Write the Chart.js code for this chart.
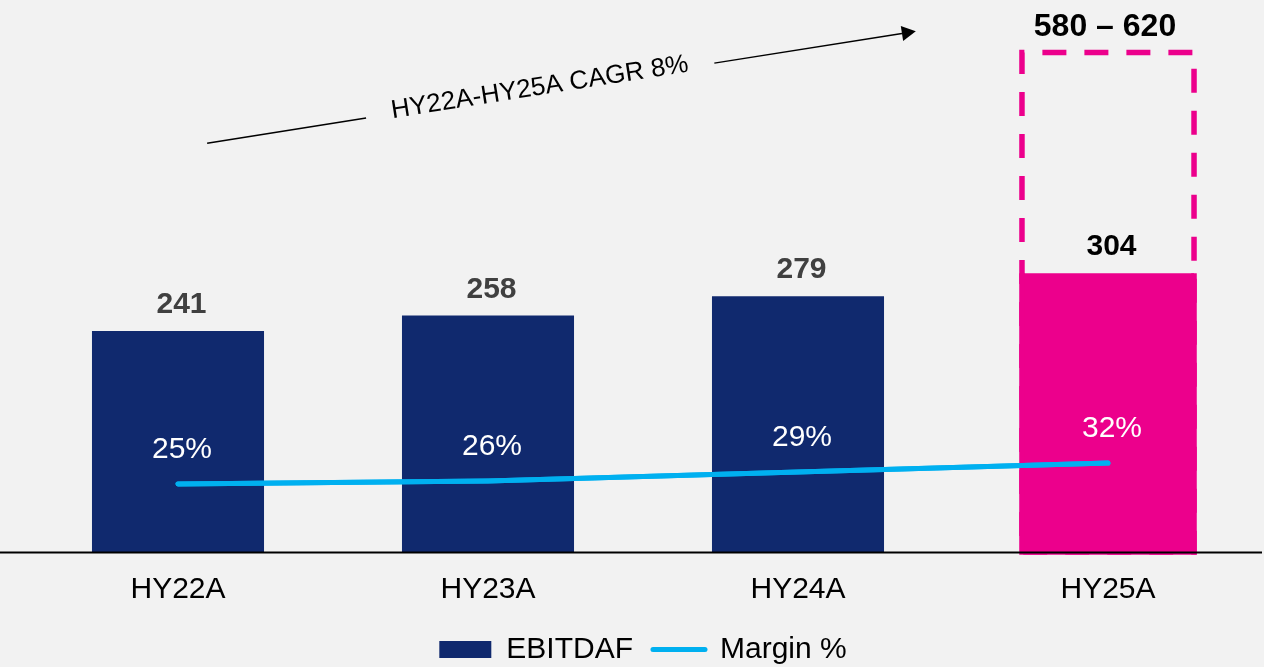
<!DOCTYPE html>
<html>
<head>
<meta charset="utf-8">
<script src="https://cdn.jsdelivr.net/npm/chart.js@4"></script>
<style>
  html, body { margin: 0; padding: 0; background: #f2f2f2; }
  canvas { display: block; }
</style>
</head>
<body>
<canvas id="chart" width="1264" height="667"></canvas>
<script>
const periods = ['HY22A', 'HY23A', 'HY24A', 'HY25A']
const ebitdaf = [241, 258, 279, 304]
const marginPct = [25, 26, 29, 32]

// guidance frame over the last bar, height as drawn in the picture
const guidanceTop = [null, null, null, 545]
const guidanceLabel = '580 – 620'

// growth arrow, ends given as [category index, EBITDAF value]
const cagrLabel = 'HY22A-HY25A CAGR 8%'
const cagrFrom = [0.094, 446]
const cagrTo = [2.38, 568]

const NAVY = '#10296e'
const PINK = '#ec008c'
const BLUE = '#00b0f0'
const FONT = "'Liberation Sans', Arial, sans-serif"

Chart.defaults.font.family = FONT

const overlay = {
  id: 'overlay',
  afterDatasetsDraw(chart) {
    const ctx = chart.ctx
    const x = chart.scales.x
    const y = chart.scales.y
    const lineMeta = chart.getDatasetMeta(0)
    const barMeta = chart.getDatasetMeta(1)
    const base = y.getPixelForValue(0)
    ctx.save()

    // dashed guidance frame + range label
    guidanceTop.forEach((v, i) => {
      if (v == null) return
      const bar = barMeta.data[i]
      const left = bar.x - bar.width / 2
      const right = bar.x + bar.width / 2
      const top = y.getPixelForValue(v)
      ctx.strokeStyle = PINK
      ctx.lineWidth = 5.5
      // solid edge where the frame runs along the filled bar
      ctx.beginPath()
      ctx.moveTo(left, bar.y)
      ctx.lineTo(left, base)
      ctx.lineTo(right, base)
      ctx.lineTo(right, bar.y)
      ctx.stroke()
      ctx.setLineDash([24, 18])
      ctx.lineDashOffset = 26
      ctx.beginPath()
      ctx.moveTo(left, base)
      ctx.lineTo(left, top)
      ctx.lineTo(right, top)
      ctx.lineTo(right, base)
      ctx.closePath()
      ctx.stroke()
      ctx.setLineDash([])
      ctx.fillStyle = '#000'
      ctx.font = 'bold 32px ' + FONT
      ctx.textAlign = 'center'
      ctx.textBaseline = 'alphabetic'
      ctx.fillText(guidanceLabel, bar.x - 3, top - 16.5)
    })

    // redraw the line over the frame edge
    lineMeta.dataset.draw(ctx, chart.chartArea)

    // baseline across the whole width
    ctx.strokeStyle = '#000'
    ctx.lineWidth = 2
    ctx.beginPath()
    ctx.moveTo(0, base + 0.5)
    ctx.lineTo(chart.width - 2, base + 0.5)
    ctx.stroke()

    // value labels above bars
    ctx.font = 'bold 30px ' + FONT
    ctx.textAlign = 'center'
    ctx.textBaseline = 'alphabetic'
    barMeta.data.forEach((bar, i) => {
      ctx.fillStyle = i === 3 ? '#000' : '#404040'
      ctx.fillText(String(ebitdaf[i]), bar.x + 3.5, bar.y - 18)
    })

    // margin labels above the line
    ctx.font = '30px ' + FONT
    ctx.fillStyle = '#fff'
    lineMeta.data.forEach((pt, i) => {
      ctx.fillText(marginPct[i] + '%', pt.x + 4, pt.y - 25.5)
    })

    // CAGR arrow with the label breaking the line
    const p0 = [x.getPixelForValue(cagrFrom[0]), y.getPixelForValue(cagrFrom[1])]
    const p1 = [x.getPixelForValue(cagrTo[0]), y.getPixelForValue(cagrTo[1])]
    const dx = p1[0] - p0[0]
    const dy = p1[1] - p0[1]
    const len = Math.hypot(dx, dy)
    const ux = dx / len
    const uy = dy / len
    const nx = uy
    const ny = -ux
    ctx.font = '26px ' + FONT
    const tw = ctx.measureText(cagrLabel).width
    const mid = len * 0.47
    const gap = tw / 2 + 26
    const head = 14
    ctx.strokeStyle = '#000'
    ctx.lineWidth = 1.5
    ctx.beginPath()
    ctx.moveTo(p0[0], p0[1])
    ctx.lineTo(p0[0] + ux * (mid - gap), p0[1] + uy * (mid - gap))
    ctx.moveTo(p0[0] + ux * (mid + gap), p0[1] + uy * (mid + gap))
    ctx.lineTo(p1[0] - ux * head, p1[1] - uy * head)
    ctx.stroke()
    ctx.fillStyle = '#000'
    ctx.beginPath()
    ctx.moveTo(p1[0], p1[1])
    ctx.lineTo(p1[0] - ux * head + nx * 7.5, p1[1] - uy * head + ny * 7.5)
    ctx.lineTo(p1[0] - ux * head - nx * 7.5, p1[1] - uy * head - ny * 7.5)
    ctx.closePath()
    ctx.fill()

    ctx.translate(p0[0] + ux * mid + nx * 3, p0[1] + uy * mid + ny * 3)
    ctx.rotate(Math.atan2(dy, dx))
    ctx.textAlign = 'center'
    ctx.textBaseline = 'middle'
    ctx.fillText(cagrLabel, 0, 0)
    ctx.restore()
  }
}

new Chart(document.getElementById('chart'), {
  data: {
    labels: periods,
    datasets: [
      {
        type: 'line',
        label: 'Margin %',
        data: marginPct,
        yAxisID: 'y2',
        borderColor: BLUE,
        borderWidth: 5,
        borderCapStyle: 'round',
        pointRadius: 0,
        tension: 0,
        order: 1
      },
      {
        type: 'bar',
        label: 'EBITDAF',
        data: ebitdaf,
        yAxisID: 'y',
        backgroundColor: periods.map((p, i) => i === 3 ? PINK : NAVY),
        categoryPercentage: 1,
        barPercentage: 0.555,
        order: 2
      }
    ]
  },
  options: {
    responsive: false,
    animation: false,
    devicePixelRatio: 1,
    layout: { padding: { top: 2, left: 23, right: 1, bottom: -7.5 } },
    scales: {
      x: {
        grid: { display: false, drawTicks: false },
        border: { display: false },
        ticks: { color: '#000', font: { size: 30 }, padding: 20 },
        afterFit: s => { s.height = 62.5 }
      },
      y: { display: false, min: 0, max: 600 },
      y2: { display: false, min: 2.33, max: 185.67 }
    },
    plugins: {
      tooltip: { enabled: false },
      legend: {
        position: 'bottom',
        labels: {
          usePointStyle: true,
          pointStyleWidth: 52,
          boxHeight: 17,
          padding: 20,
          color: '#000',
          font: { size: 30 },
          generateLabels: chart => [
            {
              text: chart.data.datasets[1].label,
              fillStyle: NAVY,
              strokeStyle: NAVY,
              lineWidth: 0,
              pointStyle: 'rect',
              datasetIndex: 1,
              hidden: false
            },
            {
              text: chart.data.datasets[0].label,
              fillStyle: BLUE,
              strokeStyle: BLUE,
              lineWidth: 5,
              lineCap: 'round',
              pointStyle: 'line',
              datasetIndex: 0,
              hidden: false
            }
          ]
        }
      }
    }
  },
  plugins: [overlay]
})
</script>
</body>
</html>
